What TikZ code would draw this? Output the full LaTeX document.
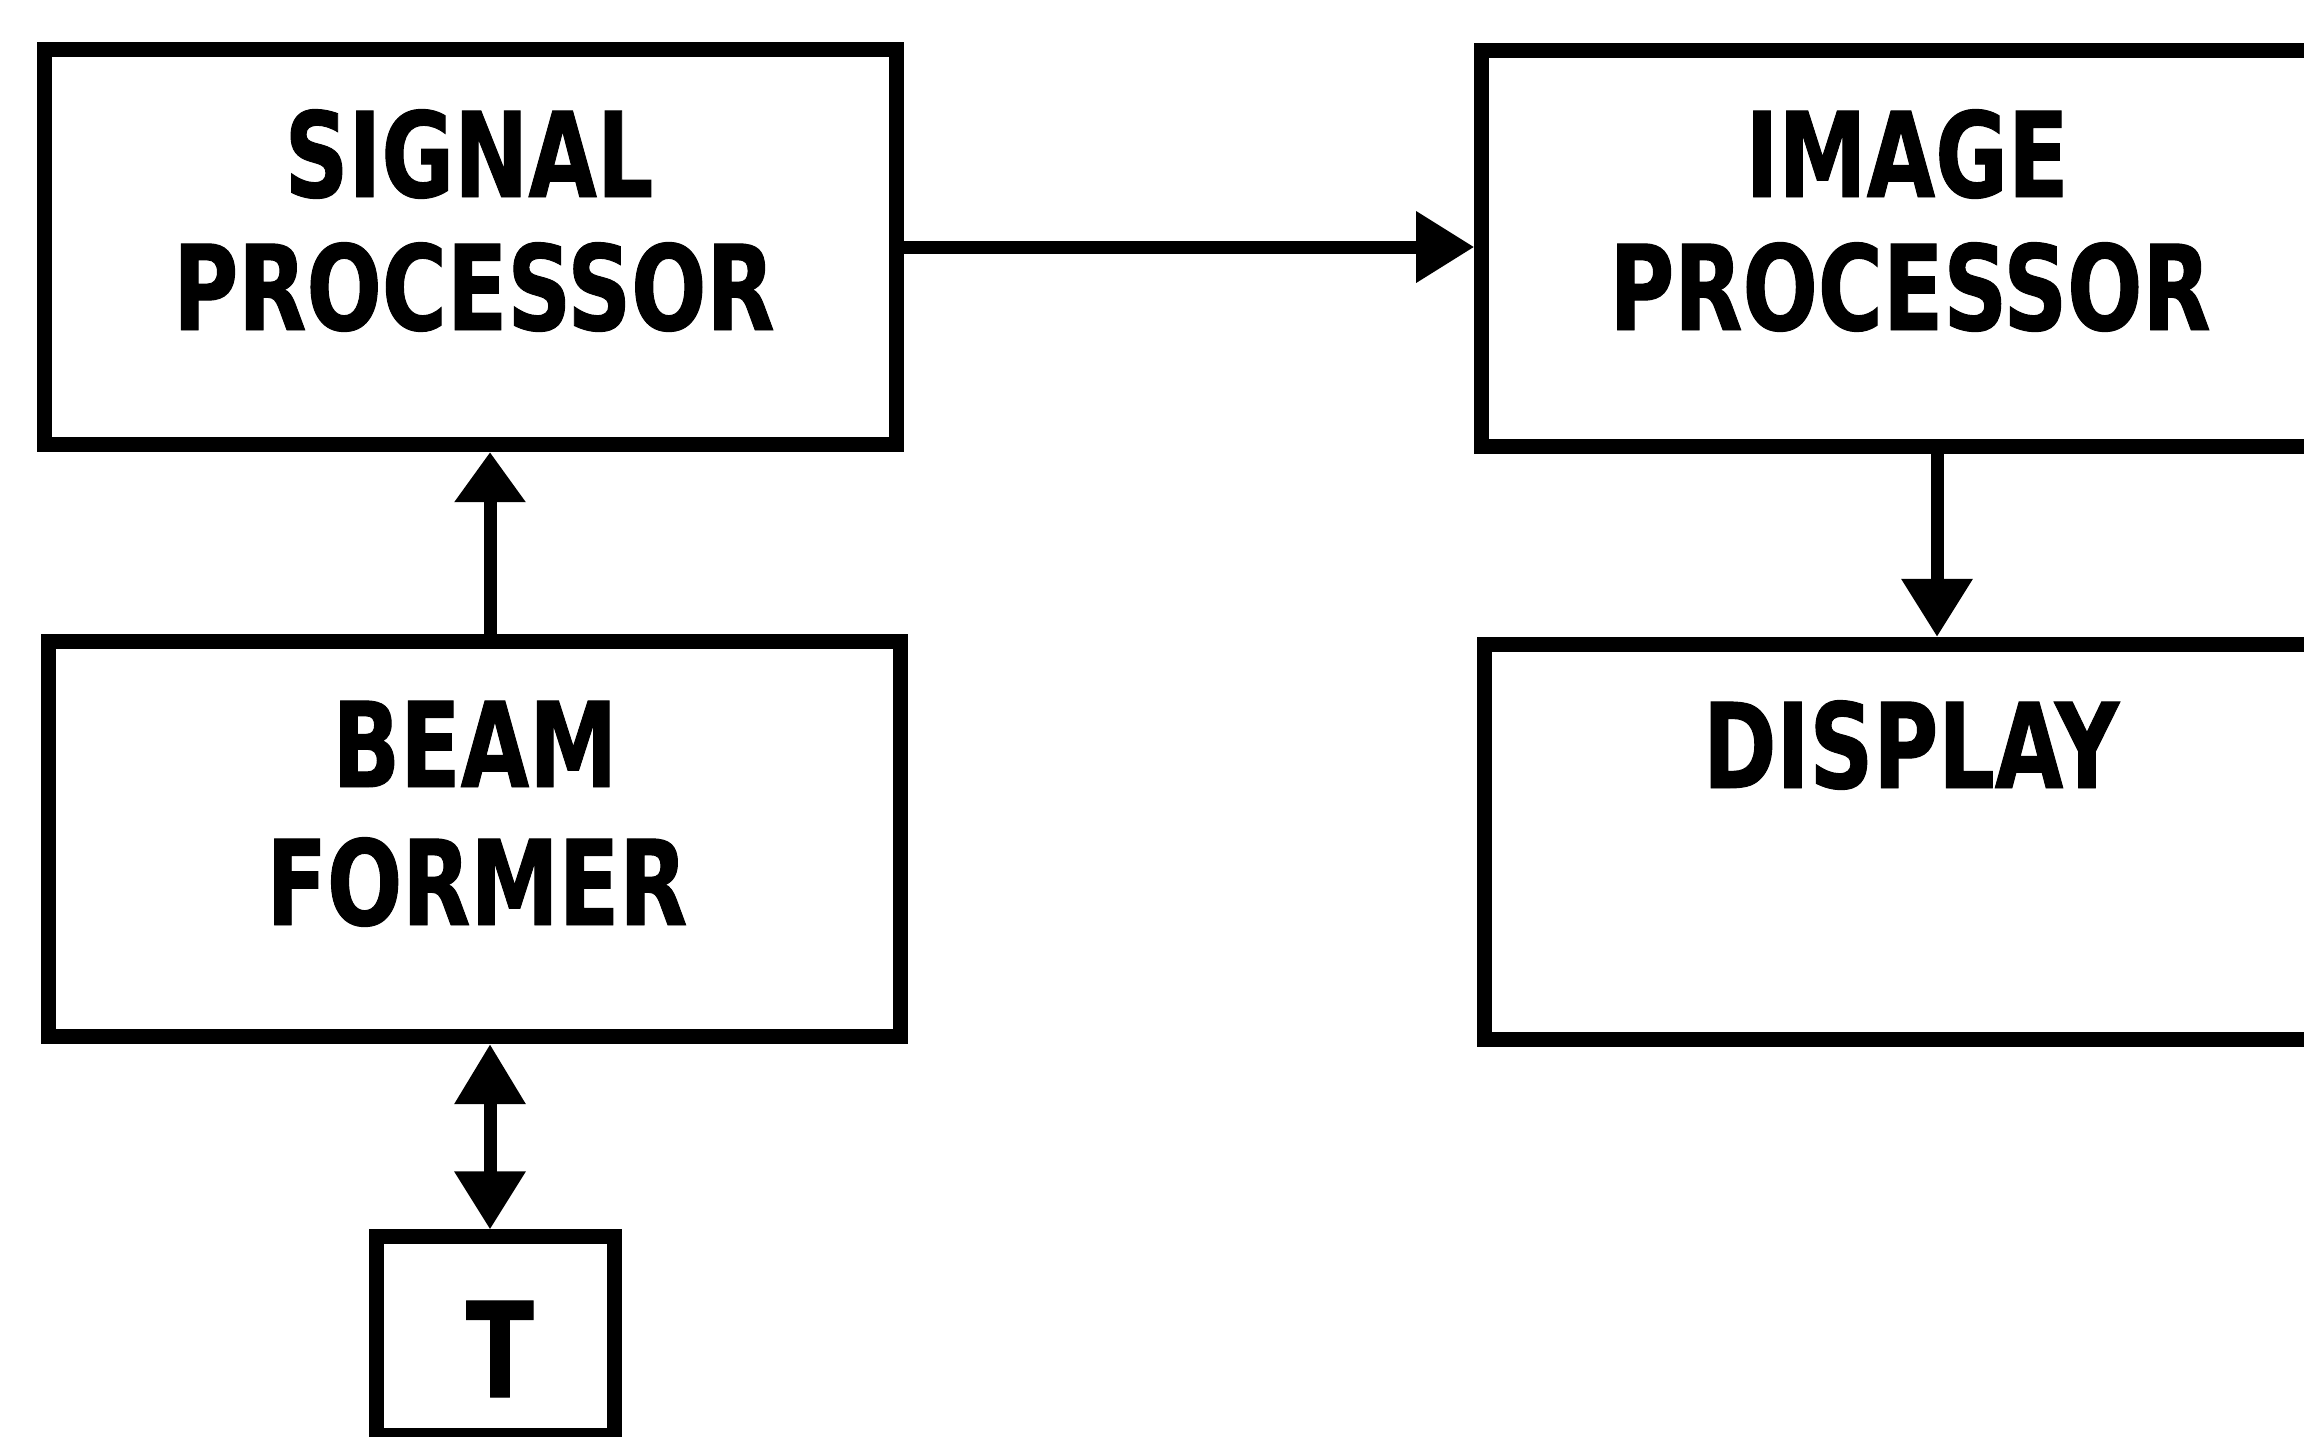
\documentclass[tikz,border=0pt]{standalone}
\usepackage{fontspec}
\newfontfamily\lblfont[FakeStretch=0.75,FakeBold=0.8]{DejaVu Sans}
\usetikzlibrary{arrows.meta}
\begin{document}
\begin{tikzpicture}[x=0.01cm,y=-0.01cm,
  box/.style={draw, line width=0.15cm, minimum width=8.52cm, minimum height=3.95cm, inner sep=0pt},
  lbl/.style={font=\lblfont\bfseries\fontsize{33.6pt}{40pt}\selectfont, anchor=base, inner sep=0pt},
  conn/.style={line width=0.13cm, -{Triangle[length=0.58cm,width=0.68cm]}},
  dconn/.style={line width=0.13cm, {Triangle[length=0.6cm,width=0.68cm]}-{Triangle[length=0.58cm,width=0.68cm]}},
]
\useasboundingbox (0,0) rectangle (2304,1436);
\clip (0,0) rectangle (2304,1436);

\node[box] (sp) at (470.5,247) {};
\node[box] (ip) at (1908,248.5) {};
\node[box] (bf) at (474.5,839) {};
\node[box] (dp) at (1911,842) {};
\node[box, minimum width=2.37cm, minimum height=1.98cm] (tr) at (495.5,1336) {};

\node[lbl] (sp1) at (469,197) {SIGNAL};
\node[lbl] (sp2) at (474,330) {PROCESSOR};
\node[lbl] (ip1) at (1907,197) {IMAGE};
\node[lbl] (ip2) at (1910,330) {PROCESSOR};
\node[lbl] (bf1) at (475,787) {BEAM};
\node[lbl] (bf2) at (477,925) {FORMER};
\node[lbl] (dp1) at (1911,788) {DISPLAY};
\node[lbl, font=\lblfont\bfseries\fontsize{37.5pt}{44pt}\selectfont] (tr1) at (500,1397) {T};

\coordinate (cx1) at (490,0);
\coordinate (cx2) at (1937,0);
\draw[conn] (sp.east) -- (sp.east -| ip.west);
\draw[line width=0.13cm, -{Triangle[length=0.5cm,width=0.68cm]}] (bf.north -| cx1) -- (sp.south -| cx1);
\draw[conn] (ip.south -| cx2) -- (dp.north -| cx2);
\draw[dconn] (bf.south -| cx1) -- (tr.north -| cx1);
\end{tikzpicture}
\end{document}
